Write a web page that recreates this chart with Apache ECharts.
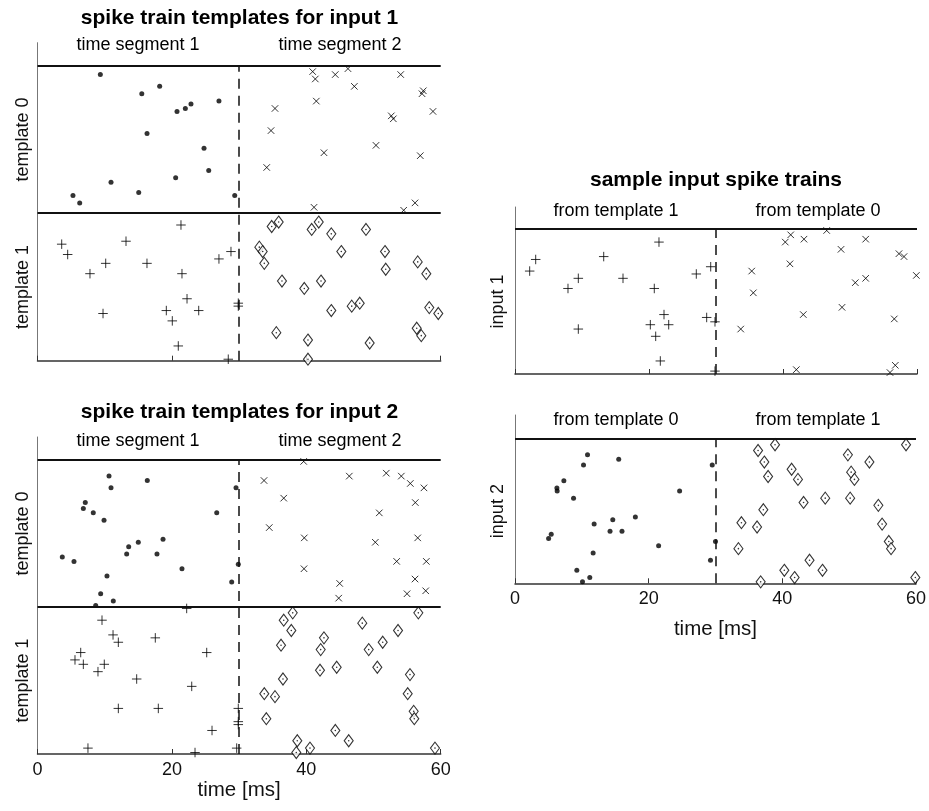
<!DOCTYPE html>
<html>
<head>
<meta charset="utf-8">
<script src="https://cdn.jsdelivr.net/npm/echarts@6/dist/echarts.min.js"></script>
<style>
html, body { margin: 0; padding: 0; background: #fff; }
#main { width: 929px; height: 811px; }
</style>
</head>
<body>
<div id="main"></div>
<script>
// spike times [ms] and row position (band 0..1 = template 1, 1..2 = template 0)
var in1_t0_dots = [[9.35,1.94],[15.52,1.81],[18.18,1.86],[20.76,1.69],[22.0,1.71],[22.84,1.74],[27.0,1.76],[16.3,1.54],[24.78,1.44],[25.48,1.29],[20.56,1.24],[10.94,1.21],[15.06,1.14],[5.28,1.12],[6.28,1.07],[29.35,1.12]];
var in1_t0_cross = [[40.95,1.96],[41.34,1.91],[44.31,1.94],[46.2,1.98],[54.05,1.94],[47.15,1.86],[41.49,1.76],[57.41,1.83],[57.22,1.81],[35.34,1.71],[58.85,1.69],[52.65,1.66],[52.95,1.64],[34.75,1.56],[50.37,1.46],[42.63,1.41],[56.96,1.39],[34.11,1.31],[41.15,1.04],[56.18,1.07],[54.49,1.02]];
var in1_t1_plus = [[21.35,0.92],[3.6,0.79],[4.49,0.72],[13.17,0.81],[28.79,0.74],[27.0,0.69],[10.15,0.66],[16.29,0.66],[7.81,0.59],[21.5,0.59],[22.25,0.42],[19.17,0.34],[23.99,0.34],[20.06,0.27],[9.75,0.32],[20.95,0.10],[28.39,0.01],[29.88,0.39],[29.88,0.37]];
var in1_t1_diam = [[34.85,0.91],[35.89,0.94],[40.8,0.89],[41.85,0.94],[43.72,0.86],[48.88,0.89],[33.01,0.77],[33.51,0.74],[33.75,0.66],[45.21,0.74],[51.71,0.74],[51.82,0.62],[56.58,0.67],[57.86,0.59],[36.38,0.54],[39.7,0.49],[42.19,0.54],[43.72,0.34],[46.76,0.37],[47.95,0.39],[58.3,0.36],[59.64,0.32],[35.54,0.19],[40.25,0.14],[49.43,0.12],[56.43,0.22],[57.11,0.17],[40.25,0.01]];

var in2_t0_dots = [[10.64,1.89],[10.94,1.81],[16.34,1.86],[7.11,1.71],[6.82,1.67],[8.3,1.64],[9.9,1.59],[26.67,1.64],[29.54,1.81],[18.68,1.46],[15.0,1.44],[13.57,1.41],[13.27,1.36],[17.78,1.36],[3.69,1.34],[5.43,1.31],[21.5,1.26],[29.88,1.29],[10.34,1.21],[28.9,1.17],[9.4,1.09],[11.28,1.04],[8.66,1.01]];
var in2_t0_cross = [[39.61,1.99],[33.71,1.86],[46.4,1.89],[51.9,1.91],[54.14,1.89],[55.48,1.84],[57.51,1.81],[36.64,1.74],[56.22,1.71],[50.86,1.64],[34.49,1.54],[39.7,1.47],[50.27,1.44],[56.58,1.47],[53.45,1.31],[57.86,1.31],[39.66,1.26],[56.18,1.19],[44.97,1.16],[57.77,1.11],[54.99,1.09],[44.82,1.06]];
var in2_t1_plus = [[22.2,0.99],[9.6,0.91],[11.24,0.81],[12.03,0.76],[17.53,0.79],[25.18,0.69],[6.43,0.69],[5.58,0.64],[6.82,0.61],[9.94,0.61],[9.0,0.56],[14.76,0.51],[22.95,0.46],[12.03,0.31],[17.98,0.31],[29.88,0.31],[29.88,0.22],[29.88,0.2],[25.97,0.16],[7.51,0.04],[23.44,0.01],[29.64,0.04]];
var in2_t1_diam = [[37.98,0.96],[36.64,0.91],[37.77,0.84],[36.24,0.74],[36.53,0.51],[33.75,0.41],[35.34,0.39],[34.05,0.24],[42.63,0.79],[42.14,0.71],[42.04,0.57],[44.52,0.59],[48.33,0.89],[49.29,0.71],[51.37,0.76],[53.65,0.84],[50.57,0.59],[56.67,0.96],[55.43,0.54],[55.09,0.41],[55.98,0.29],[56.07,0.24],[44.32,0.16],[46.31,0.09],[38.66,0.09],[38.51,0.01],[40.55,0.04],[59.15,0.04]];

// sample inputs (single band 0..1)
var sample1_plus = [[21.49,0.91],[3.09,0.79],[2.19,0.71],[13.24,0.81],[9.45,0.66],[16.12,0.66],[7.91,0.59],[20.79,0.59],[27.06,0.69],[22.24,0.41],[20.2,0.34],[22.94,0.34],[21.0,0.26],[9.45,0.31],[21.69,0.09],[28.61,0.39],[29.21,0.74],[29.85,0.36],[29.85,0.02]];
var sample1_cross = [[40.34,0.91],[41.15,0.96],[43.13,0.93],[46.52,0.99],[52.34,0.93],[48.66,0.86],[57.31,0.83],[58.06,0.81],[41.04,0.76],[35.33,0.71],[50.79,0.63],[52.34,0.66],[59.9,0.68],[35.57,0.56],[48.81,0.46],[43.03,0.41],[56.61,0.38],[33.69,0.31],[41.99,0.03],[56.76,0.06],[55.97,0.01]];
var sample2_dots = [[10.85,0.89],[10.25,0.82],[15.52,0.86],[7.31,0.71],[6.27,0.66],[6.31,0.64],[8.76,0.59],[24.63,0.64],[18.01,0.46],[14.63,0.44],[11.84,0.41],[14.22,0.36],[16.01,0.36],[5.42,0.34],[5.03,0.31],[21.49,0.26],[11.69,0.21],[29.25,0.16],[9.25,0.09],[11.19,0.04],[10.1,0.01],[29.51,0.82],[30.0,0.29]];
var sample2_diam = [[38.91,0.96],[36.37,0.92],[37.31,0.84],[37.87,0.74],[49.81,0.89],[53.03,0.84],[41.39,0.79],[42.34,0.72],[50.3,0.77],[50.79,0.72],[43.18,0.56],[46.42,0.59],[50.15,0.59],[37.16,0.51],[54.37,0.54],[33.88,0.42],[36.22,0.39],[54.93,0.41],[55.93,0.29],[56.27,0.24],[33.43,0.24],[44.07,0.16],[40.3,0.09],[46.01,0.09],[41.84,0.04],[36.76,0.01],[58.51,0.96],[59.9,0.04]];

var xTicks = [0, 20, 40, 60];
var segmentBoundary = 30;

var FONT = 'Liberation Sans, Arial, Helvetica, sans-serif';
var myChart = echarts.init(document.getElementById('main'));

// marker looks
var styles = {
	dot: { symbol: 'circle', symbolSize: 5, itemStyle: { color: '#000' } },
	cross: { symbol: 'path://M0,0L10,10M10,0L0,10', symbolSize: 6.5, itemStyle: { color: 'transparent', borderColor: '#000', borderWidth: 1 } },
	plus: { symbol: 'path://M5,0L5,10M0,5L10,5', symbolSize: 9.5, itemStyle: { color: 'transparent', borderColor: '#000', borderWidth: 1 } },
	diamond: { symbol: 'diamond', symbolSize: [9, 12], itemStyle: { color: '#fff', borderColor: '#000', borderWidth: 1.1 } },
	centre: { symbol: 'circle', symbolSize: 1.6, itemStyle: { color: '#000' } }
};

function scat(data, g, kind) {
	var s = styles[kind];
	return {
		type: 'scatter',
		xAxisIndex: g,
		yAxisIndex: g,
		data: data,
		symbol: s.symbol,
		symbolSize: s.symbolSize,
		itemStyle: s.itemStyle,
		silent: true,
		clip: false,
		z: 3
	};
}

// template separators + dashed segment boundary
function guides(g, bands) {
	var lines = [];
	for (var b = 1; b <= bands; b++) {
		lines.push({ yAxis: b, lineStyle: { color: '#111', width: 2, type: 'solid' } });
	}
	lines.push([{ coord: [segmentBoundary, 0], lineStyle: { color: '#111', width: 1.5, type: [10, 7] } }, { coord: [segmentBoundary, bands] }]);
	return {
		type: 'scatter',
		xAxisIndex: g,
		yAxisIndex: g,
		data: [],
		silent: true,
		markLine: {
			silent: true,
			symbol: ['none', 'none'],
			label: { show: false },
			animation: false,
			data: lines
		},
		z: 4
	};
}

function timeAxis(g, showLabels, nameGap) {
	return {
		gridIndex: g,
		type: 'value',
		min: xTicks[0],
		max: xTicks[xTicks.length - 1],
		interval: xTicks[1] - xTicks[0],
		axisLine: { show: true, onZero: false, lineStyle: { color: '#333', width: 1.5 } },
		axisTick: { show: true, inside: true, length: 5, lineStyle: { color: '#333', width: 1 } },
		axisLabel: { show: showLabels, fontSize: 18, color: '#111', margin: 7, fontFamily: FONT },
		splitLine: { show: false },
		name: showLabels ? 'time [ms]' : '',
		nameLocation: 'middle',
		nameGap: nameGap,
		nameTextStyle: { fontSize: 20.5, color: '#111', fontFamily: FONT }
	};
}

function rowAxis(g, max, names, margin) {
	return {
		gridIndex: g,
		type: 'value',
		min: 0,
		max: max,
		interval: 0.5,
		axisLine: { show: true, lineStyle: { color: '#777', width: 1 } },
		axisTick: { show: false },
		splitLine: { show: false },
		axisLabel: {
			rotate: 90,
			margin: margin,
			fontSize: 18,
			color: '#111',
			fontFamily: FONT,
			showMinLabel: false,
			showMaxLabel: false,
			formatter: function(v) {
				for (var i = 0; i < names.length; i++) {
					if (Math.abs(v - (i + 0.5)) < 1e-6) return names[i];
				}
				return '';
			}
		}
	};
}

function txt(x, y, s, bold) {
	return {
		type: 'text',
		x: x,
		y: y,
		silent: true,
		style: {
			text: s,
			fill: '#000',
			font: (bold ? 'bold 21px ' : '18px ') + FONT,
			textAlign: 'center',
			textVerticalAlign: 'middle',
			align: 'center',
			verticalAlign: 'middle'
		}
	};
}

var option = {
	animation: false,
	backgroundColor: '#fff',
	grid: [
		{ left: 37.5, top: 42.7, width: 403.2, height: 318 },
		{ left: 37.5, top: 437, width: 403.2, height: 317 },
		{ left: 515, top: 207, width: 402, height: 167 },
		{ left: 515, top: 415, width: 402, height: 168.3 }
	],
	xAxis: [
		timeAxis(0, false, 25),
		timeAxis(1, true, 25),
		timeAxis(2, false, 25),
		timeAxis(3, true, 36)
	],
	yAxis: [
		rowAxis(0, 2.156, ['template 1', 'template 0'], 5),
		rowAxis(1, 2.156, ['template 1', 'template 0'], 5),
		rowAxis(2, 1.152, ['input 1'], 8),
		rowAxis(3, 1.166, ['input 2'], 8)
	],
	series: [
		guides(0, 2), guides(1, 2), guides(2, 1), guides(3, 1),
		scat(in1_t0_dots, 0, 'dot'),
		scat(in1_t0_cross, 0, 'cross'),
		scat(in1_t1_plus, 0, 'plus'),
		scat(in1_t1_diam, 0, 'diamond'),
		scat(in1_t1_diam, 0, 'centre'),
		scat(in2_t0_dots, 1, 'dot'),
		scat(in2_t0_cross, 1, 'cross'),
		scat(in2_t1_plus, 1, 'plus'),
		scat(in2_t1_diam, 1, 'diamond'),
		scat(in2_t1_diam, 1, 'centre'),
		scat(sample1_plus, 2, 'plus'),
		scat(sample1_cross, 2, 'cross'),
		scat(sample2_dots, 3, 'dot'),
		scat(sample2_diam, 3, 'diamond'),
		scat(sample2_diam, 3, 'centre')
	],
	graphic: [
		txt(239.5, 18, 'spike train templates for input 1', true),
		txt(239.5, 412, 'spike train templates for input 2', true),
		txt(716, 180, 'sample input spike trains', true),
		txt(138, 45, 'time segment 1'),
		txt(340, 45, 'time segment 2'),
		txt(138, 441, 'time segment 1'),
		txt(340, 441, 'time segment 2'),
		txt(616, 211, 'from template 1'),
		txt(818, 211, 'from template 0'),
		txt(616, 420, 'from template 0'),
		txt(818, 420, 'from template 1')
	]
};

myChart.setOption(option);
</script>
</body>
</html>
